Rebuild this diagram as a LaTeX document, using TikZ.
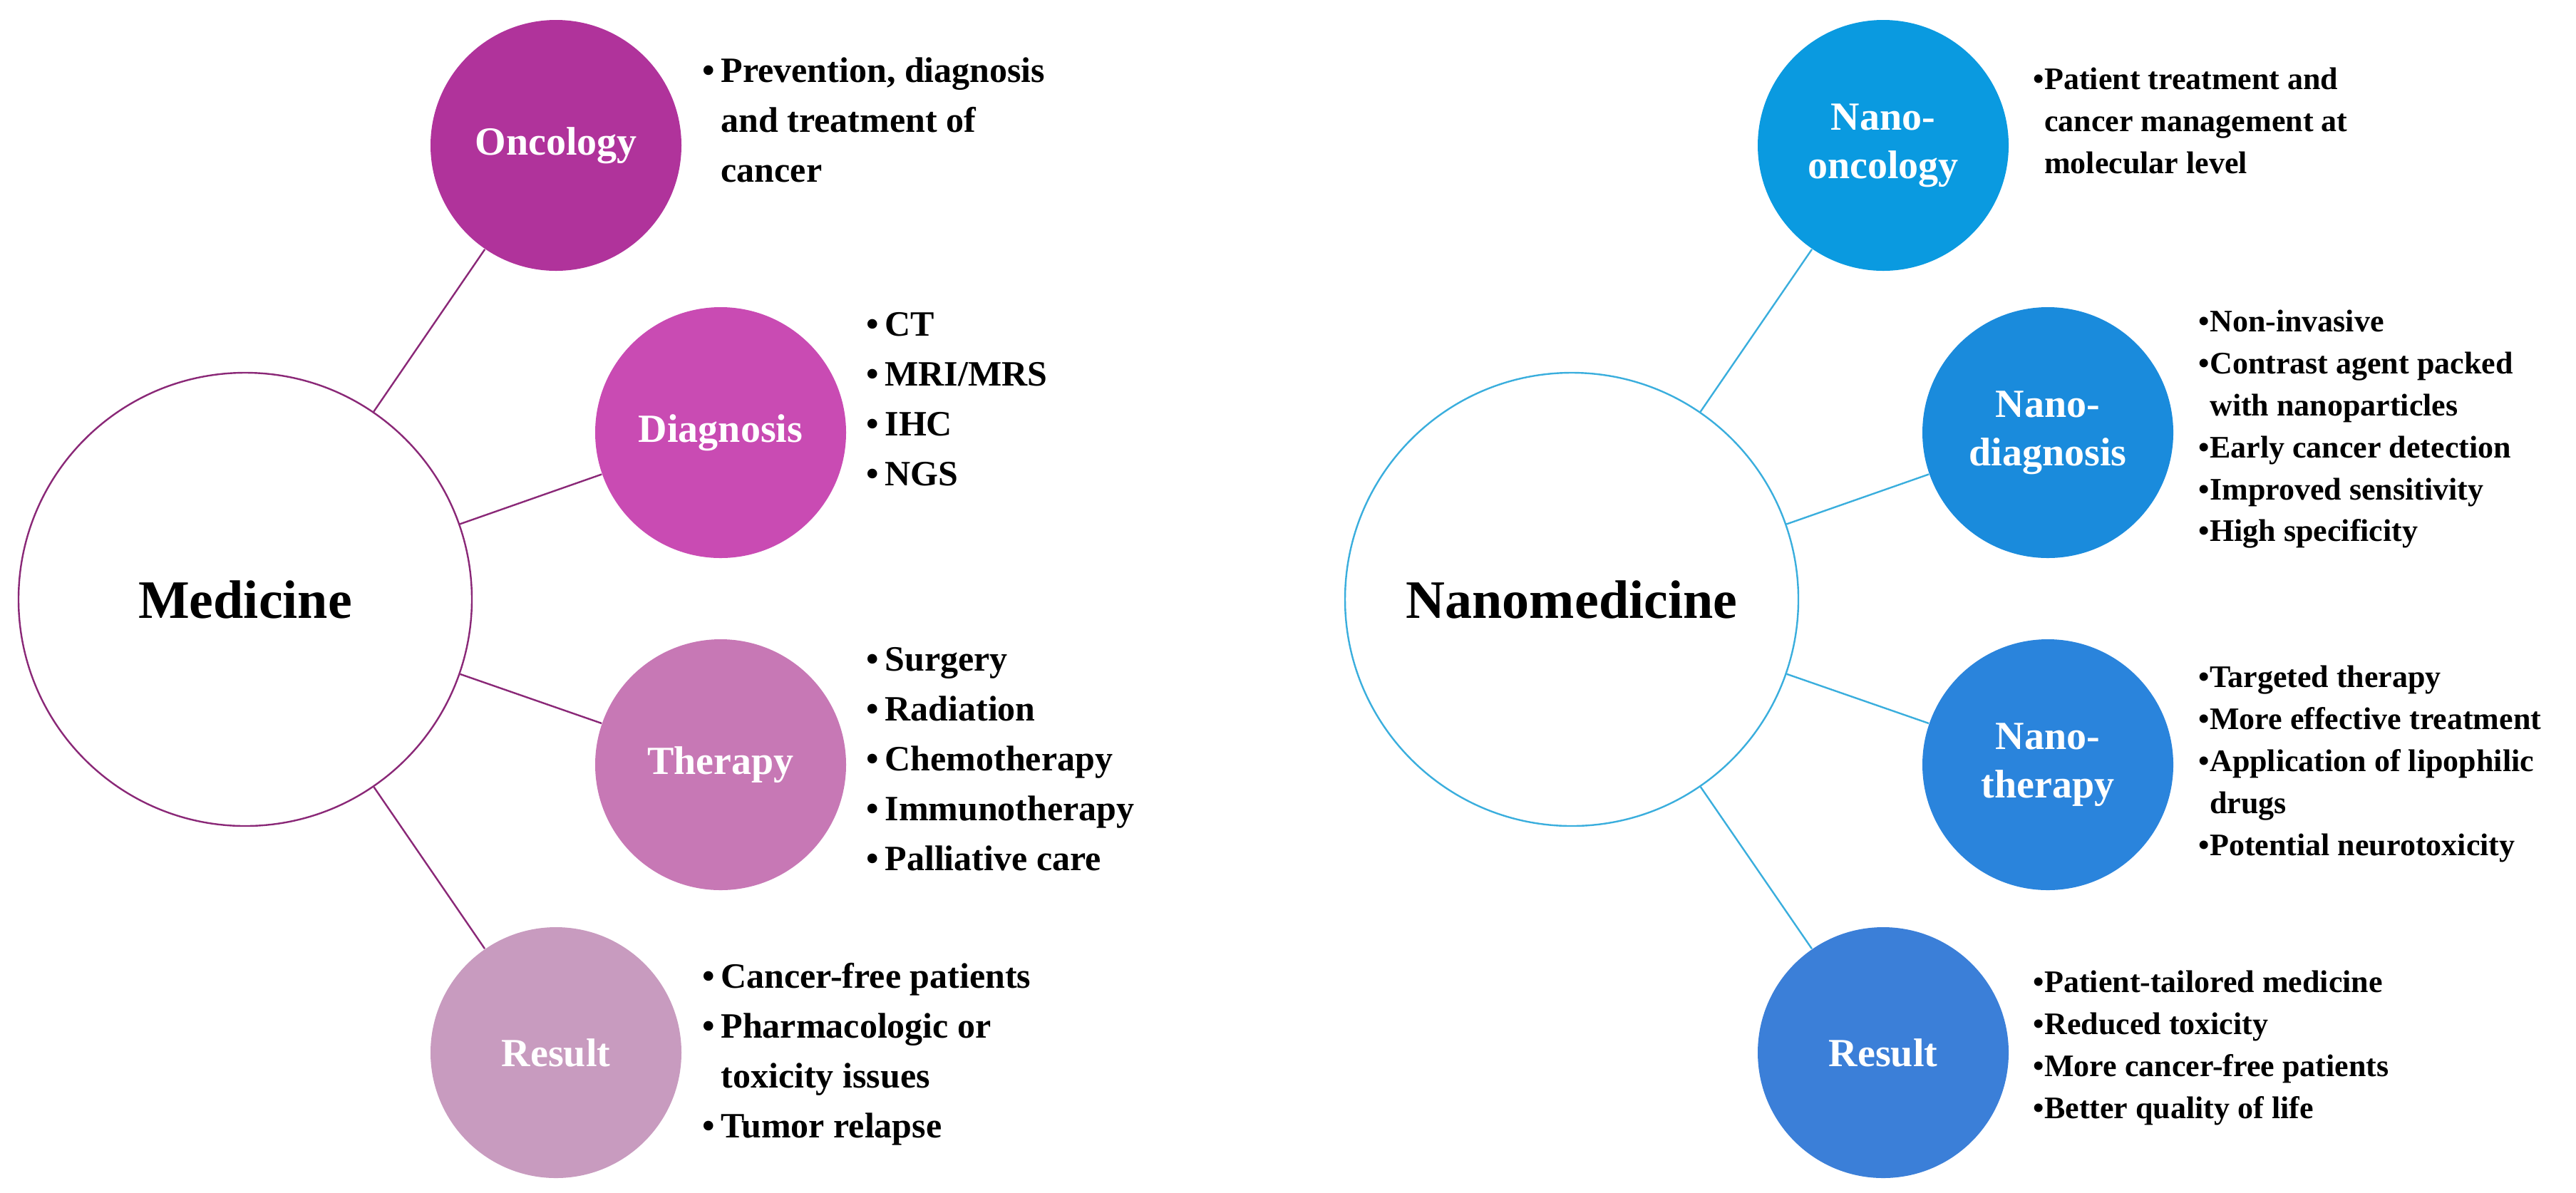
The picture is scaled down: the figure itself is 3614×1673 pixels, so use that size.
\documentclass[tikz,border=0pt]{standalone}
\usepackage{fontspec}
\setmainfont{Liberation Serif}
\usepackage{array}
\definecolor{onc}{HTML}{B0339B}
\definecolor{dia}{HTML}{C94BB3}
\definecolor{the}{HTML}{C778B5}
\definecolor{res}{HTML}{C89BBF}
\definecolor{nonc}{HTML}{0A9AE0}
\definecolor{ndia}{HTML}{1A8BDC}
\definecolor{nthe}{HTML}{2A84DC}
\definecolor{nres}{HTML}{3B7FD8}
\definecolor{lline}{HTML}{8A2877}
\definecolor{rline}{HTML}{3AAEDD}
\newcommand{\lfont}{\fontsize{12.5}{17.5}\selectfont\bfseries}
\newcommand{\rfont}{\fontsize{11}{14.7}\selectfont\bfseries}
\newcommand{\bl}{\textbullet}
\begin{document}
\begin{tikzpicture}[x=0.25pt,y=-0.25pt,
  big/.style={circle,draw,line width=0.6pt,fill=white,minimum size=159pt,inner sep=0pt,font=\fontsize{19}{22}\selectfont\bfseries},
  sm/.style={circle,minimum size=88pt,inner sep=0pt,text=white,align=center,font=\fontsize{14}{17}\selectfont\bfseries},
  lst/.style={anchor=north west,inner sep=0pt,align=left},
  lc/.style={draw=lline,line width=0.6pt},
  rc/.style={draw=rline,line width=0.6pt}]
\useasboundingbox (0,0) rectangle (3614,1673);
% left
\node[big,draw=lline] (med) at (344,841) {Medicine};
\node[sm,fill=onc] (onc) at (780,204) {Oncology};
\node[sm,fill=dia] (dia) at (1011,607) {Diagnosis};
\node[sm,fill=the] (the) at (1011,1073) {Therapy};
\node[sm,fill=res] (res) at (780,1477) {Result};
\draw[lc] (med) -- (onc);
\draw[lc] (med) -- (dia);
\draw[lc] (med) -- (the);
\draw[lc] (med) -- (res);
\node[lst] (t1) at (985,66) {\lfont\begin{tabular}{@{}l@{\,}l@{}}\bl&Prevention, diagnosis\\&and treatment of\\&cancer\end{tabular}};
\node[lst] (t2) at (1215,422) {\lfont\begin{tabular}{@{}l@{\,}l@{}}\bl&CT\\\bl&MRI/MRS\\\bl&IHC\\\bl&NGS\end{tabular}};
\node[lst] (t3) at (1215,892) {\lfont\begin{tabular}{@{}l@{\,}l@{}}\bl&Surgery\\\bl&Radiation\\\bl&Chemotherapy\\\bl&Immunotherapy\\\bl&Palliative care\end{tabular}};
\node[lst] (t4) at (985,1337) {\lfont\begin{tabular}{@{}l@{\,}l@{}}\bl&Cancer-free patients\\\bl&Pharmacologic or\\&toxicity issues\\\bl&Tumor relapse\end{tabular}};
% right
\node[big,draw=rline] (nmed) at (2205,841) {Nanomedicine};
\node[sm,fill=nonc] (nonc) at (2642,204) {Nano-\\oncology};
\node[sm,fill=ndia] (ndia) at (2873,607) {Nano-\\diagnosis};
\node[sm,fill=nthe] (nthe) at (2873,1073) {Nano-\\therapy};
\node[sm,fill=nres] (nres) at (2642,1477) {Result};
\draw[rc] (nmed) -- (nonc);
\draw[rc] (nmed) -- (ndia);
\draw[rc] (nmed) -- (nthe);
\draw[rc] (nmed) -- (nres);
\node[lst] (r1) at (2852,84) {\rfont\begin{tabular}{@{}l@{}l@{}}\bl&Patient treatment and\\&cancer management at\\&molecular level\end{tabular}};
\node[lst] (r2) at (3084,424) {\rfont\begin{tabular}{@{}l@{}l@{}}\bl&Non-invasive\\\bl&Contrast agent packed\\&with nanoparticles\\\bl&Early cancer detection\\\bl&Improved sensitivity\\\bl&High specificity\end{tabular}};
\node[lst] (r3) at (3084,923) {\rfont\begin{tabular}{@{}l@{}l@{}}\bl&Targeted therapy\\\bl&More effective treatment\\\bl&Application of lipophilic\\&drugs\\\bl&Potential neurotoxicity\end{tabular}};
\node[lst] (r4) at (2852,1351) {\rfont\begin{tabular}{@{}l@{}l@{}}\bl&Patient-tailored medicine\\\bl&Reduced toxicity\\\bl&More cancer-free patients\\\bl&Better quality of life\end{tabular}};
\end{tikzpicture}
\end{document}
